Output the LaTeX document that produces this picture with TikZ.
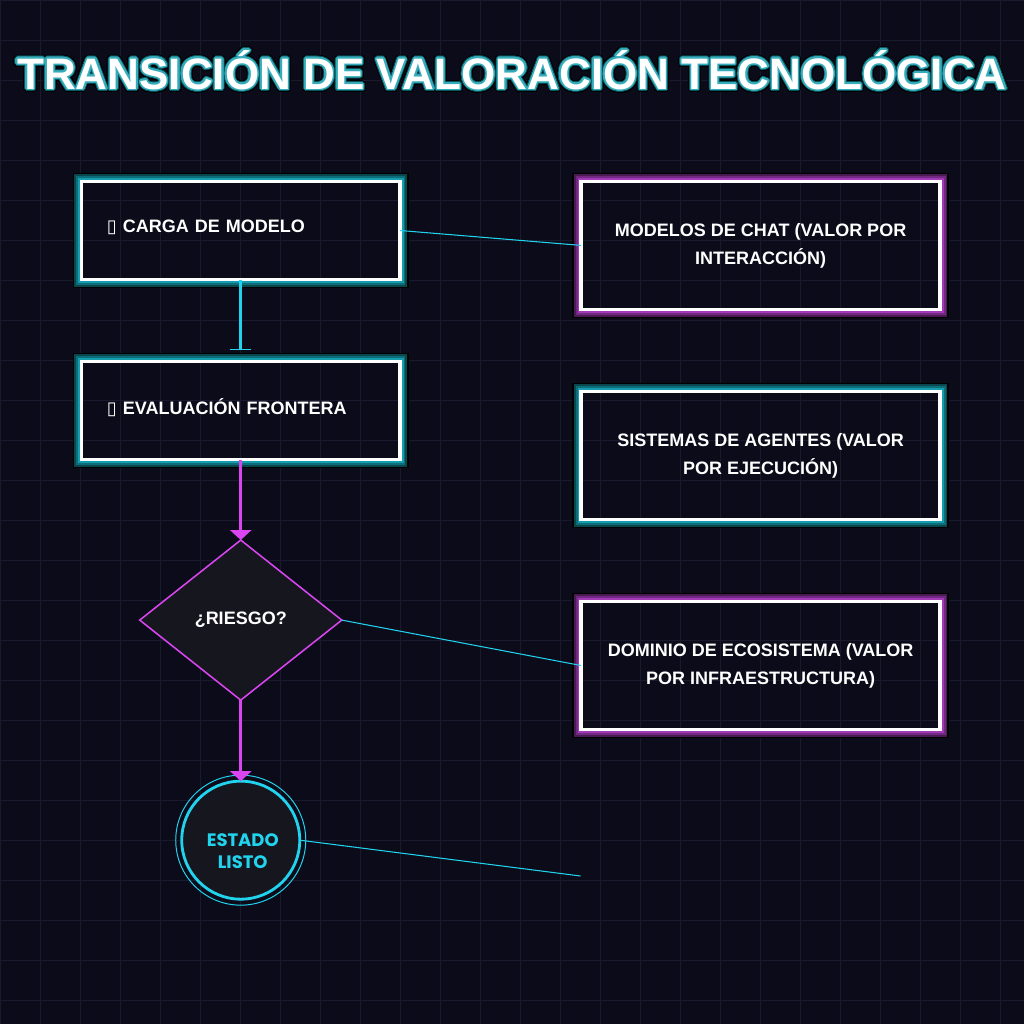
\documentclass[tikz,border=0pt]{standalone}
\usepackage{fontspec}
\setmainfont{Liberation Sans}
\newfontfamily\glyphfont{DejaVu Sans}
\newfontfamily\roundfont{Poppins}
\usepackage{tikz}
\usetikzlibrary{arrows.meta, positioning, shapes.geometric, calc}

\definecolor{bgNavy}{HTML}{0B0B1A}
\definecolor{gridNavy}{HTML}{1A1A2E}
\definecolor{nodeInk}{HTML}{16161F}
\definecolor{neonCyan}{HTML}{22D3EE}
\definecolor{neonPink}{HTML}{D946EF}
\definecolor{glowTeal}{HTML}{139DAE}
\definecolor{glowPink}{HTML}{A23AB8}

\newcommand{\headline}{TRANSICIÓN DE VALORACIÓN TECNOLÓGICA}
\newcommand{\tofu}{{\glyphfont ▯}}
\newcommand{\boxfont}{\fontsize{12.8}{19.9}\selectfont\bfseries}

% neon rim round a box node: #1 node, #2 colour
\newcommand{\neonrim}[2]{%
  \draw[line width=1.35pt, #2] ([shift={(-2.7,-2.7)}]#1.north west) rectangle ([shift={(2.7,2.7)}]#1.south east);
  \draw[line width=1.35pt, #2!70!black] ([shift={(-4.5,-4.5)}]#1.north west) rectangle ([shift={(4.5,4.5)}]#1.south east);
  \draw[line width=1.35pt, #2!45!black] ([shift={(-6.3,-6.3)}]#1.north west) rectangle ([shift={(6.3,6.3)}]#1.south east);
  \draw[line width=1.1pt, black] ([shift={(-8,-8)}]#1.north west) rectangle ([shift={(8,8)}]#1.south east);
}

\begin{document}
\begin{tikzpicture}[
  x=0.025cm, y=-0.025cm,
  node distance=2.05cm,
  gridline/.style={gridNavy, line width=0.7pt},
  titletext/.style={font=\fontsize{31.3}{36}\selectfont\bfseries, inner sep=0pt},
  leftbox/.style={draw=white, line width=2.5pt, outer sep=0pt,
               minimum width=7.9625cm, minimum height=2.45cm,
               text width=6.6875cm, inner xsep=0.6375cm, align=left,
               text depth=0.225cm, text=white, font=\boxfont},
  rightbox/.style={draw=white, line width=2.5pt, outer sep=0pt,
               minimum width=8.975cm, minimum height=3.2cm,
               align=center, text=white, font=\boxfont},
  decision/.style={diamond, draw=neonPink, line width=1.1pt, fill=nodeInk,
               minimum width=5.05cm, minimum height=4cm, aspect=1.2625,
               inner sep=0pt, outer sep=0pt, text=white, font=\boxfont},
  endstate/.style={circle, draw=neonCyan, line width=2pt, fill=nodeInk,
               minimum size=2.95cm, inner sep=0pt, outer sep=0pt},
  statetext/.style={align=center, text=neonCyan, inner sep=0pt,
               font=\roundfont\fontsize{12.8}{15}\selectfont\bfseries},
  barflow/.style={neonCyan, line width=1.9pt, shorten >=0.28cm,
               -{Bar[width=0.525cm, line width=0.9pt]}},
  pinkflow/.style={neonPink, line width=1.9pt,
               -{Triangle[width=0.525cm, length=0.25cm]}},
  wire/.style={neonCyan, line width=0.75pt}
]
  \useasboundingbox (0,0) rectangle (1024,1024);
  \fill[bgNavy] (0,0) rectangle (1024,1024);
  \foreach \g in {0,40,...,1000} {
    \draw[gridline] (\g,0) -- (\g,1024);
    \draw[gridline] (0,\g) -- (1024,\g);
  }

  % title with its glow
  \coordinate (titlepos) at (512,70);
  \foreach \r/\c in {3.4/black, 2.4/glowTeal!55!black, 1.4/glowTeal!85!white} {
    \foreach \a in {0,15,...,345}
      \node[titletext, text=\c] at ($(titlepos)+(\a:\r)$) {\headline};
  }
  \node[titletext, text=white] (title) at (titlepos) {\headline};

  % left column
  \node[leftbox] (load) at (240.75,230.5) {\tofu\ CARGA DE MODELO};
  \node[leftbox, below=of load] (frontier) {\tofu\ EVALUACIÓN FRONTERA};
  \node[decision, below=2.0125cm of frontier] (risk) {¿RIESGO?};
  \node[endstate, below=2.025cm of risk] (ready) {};
  \node[statetext] (readytext) at ($(ready.center)+(2,11)$) {ESTADO\\LISTO};
  \draw[neonCyan, line width=0.7pt] (ready.center) circle[radius=1.625cm];
  \neonrim{load}{glowTeal}
  \neonrim{frontier}{glowTeal}

  % right column
  \node[rightbox] (chat) at (760.6,245.4) {MODELOS DE CHAT (VALOR POR\\INTERACCIÓN)};
  \node[rightbox, below=of chat] (agents) {SISTEMAS DE AGENTES (VALOR\\POR EJECUCIÓN)};
  \node[rightbox, below=of agents] (ecosys) {DOMINIO DE ECOSISTEMA (VALOR\\POR INFRAESTRUCTURA)};
  \coordinate (stub) at (580.5,876);
  \neonrim{chat}{glowPink}
  \neonrim{agents}{glowTeal}
  \neonrim{ecosys}{glowPink}

  \draw[barflow] (load) -- (frontier);
  \draw[pinkflow] (frontier) -- (risk);
  \draw[pinkflow] (risk) -- (ready);
  \draw[wire] (load.east) -- (chat.west);
  \draw[wire] (risk.east) -- (ecosys.west);
  \draw[wire] (ready.east) -- (stub);
\end{tikzpicture}
\end{document}
